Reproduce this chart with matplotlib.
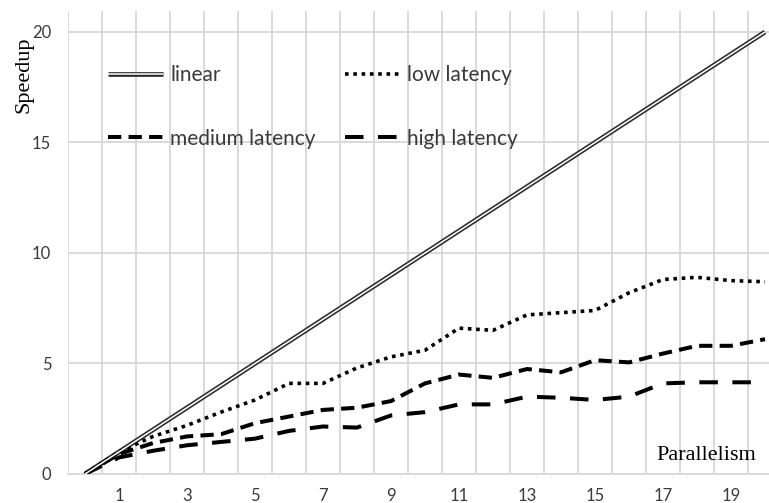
import matplotlib.pyplot as plt
from matplotlib.ticker import FixedLocator, MultipleLocator
import numpy as np

# parallelism categories (0..20) and measured speedup
parallelism = list(range(0, 21))
linear = list(range(0, 21))
low_latency = [0, 1.0, 1.7, 2.2, 2.8, 3.35, 4.1, 4.1, 4.8, 5.3, 5.6,
               6.6, 6.5, 7.2, 7.3, 7.4, 8.2, 8.8, 8.9, 8.75, 8.7]
medium_latency = [0, 0.9, 1.4, 1.7, 1.8, 2.3, 2.6, 2.9, 3.0, 3.3, 4.1,
                  4.5, 4.35, 4.75, 4.6, 5.15, 5.05, 5.45, 5.8, 5.8, 6.1]
high_latency = [0, 0.75, 1.05, 1.3, 1.45, 1.6, 1.95, 2.15, 2.1, 2.65, 2.8,
                3.15, 3.15, 3.5, 3.45, 3.35, 3.5, 4.1, 4.15, 4.15, 4.15]
tick_labels = [str(i) for i in range(1, 20, 2)]

W, H = 769, 503
fig = plt.figure(figsize=(W / 100, H / 100), dpi=100)
# plot area spans beyond the right border like in the cropped original
ax = fig.add_axes([68 / W, (H - 474) / H, 714 / W, 463 / H])

sans = 'Lato'
serif = 'Liberation Serif'
grid_c = '#d9d9d9'
txt_c = '#3a3a3a'

x = np.array(parallelism)

# linear: double line (dark outline with white core)
l_out, = ax.plot(x, linear, color='#2b2b2b', lw=3.4, solid_capstyle='butt', zorder=3)
l_in, = ax.plot(x, linear, color='white', lw=1.1, solid_capstyle='butt', zorder=4)
l_low, = ax.plot(x, low_latency, color='black', lw=2.6, linestyle=(0, (1, 1.3)), zorder=3)
l_med, = ax.plot(x, medium_latency, color='black', lw=2.9, linestyle=(0, (3.3, 1.8)), zorder=3)
l_high, = ax.plot(x, high_latency, color='black', lw=2.9, linestyle=(0, (4.6, 3.6)), zorder=3)

ax.set_xlim(-0.5, 20.5)
ax.set_ylim(0, 20.95)

# category-style gridlines between categories, labels on every other category
ax.xaxis.set_minor_locator(FixedLocator(np.arange(-0.5, 21, 1)))
ax.set_xticks(range(1, 20, 2))
ax.set_xticklabels(tick_labels)
ax.yaxis.set_major_locator(MultipleLocator(5))
ax.grid(True, which='minor', axis='x', color=grid_c, lw=1.4)
ax.grid(True, which='major', axis='y', color=grid_c, lw=1.4)
ax.set_axisbelow(True)
ax.tick_params(which='both', length=0)
ax.tick_params(axis='x', pad=10, labelsize=12, labelcolor=txt_c)
ax.tick_params(axis='y', pad=12, labelsize=12, labelcolor=txt_c)
for lab in ax.get_xticklabels() + ax.get_yticklabels():
    lab.set_fontname(sans)
for side in ['top', 'right', 'left']:
    ax.spines[side].set_visible(False)
ax.spines['bottom'].set_color(grid_c)
ax.spines['bottom'].set_linewidth(1.4)

# axis titles
fig.text(24 / W, 1 - 75 / H, 'Speedup', rotation=90, ha='center', va='center',
         fontname=serif, fontsize=16, color='black')
fig.text(756 / W, 1 - 455 / H, 'Parallelism', ha='right', va='center',
         fontname=serif, fontsize=16, color='black')

# legend: two columns, two rows
leg = ax.legend([(l_out, l_in), l_med, l_low, l_high],
                ['linear', 'medium latency', 'low latency', 'high latency'],
                ncol=2, frameon=False, loc='upper left',
                bbox_to_anchor=(108 / W, 1 - 65 / H), bbox_transform=fig.transFigure,
                borderpad=0, borderaxespad=0, handlelength=2.64, handletextpad=0.34,
                columnspacing=1.4, labelspacing=2.1,
                prop={'family': sans, 'size': 15})
for t in leg.get_texts():
    t.set_color(txt_c)

fig.savefig('out.png', dpi=100)
